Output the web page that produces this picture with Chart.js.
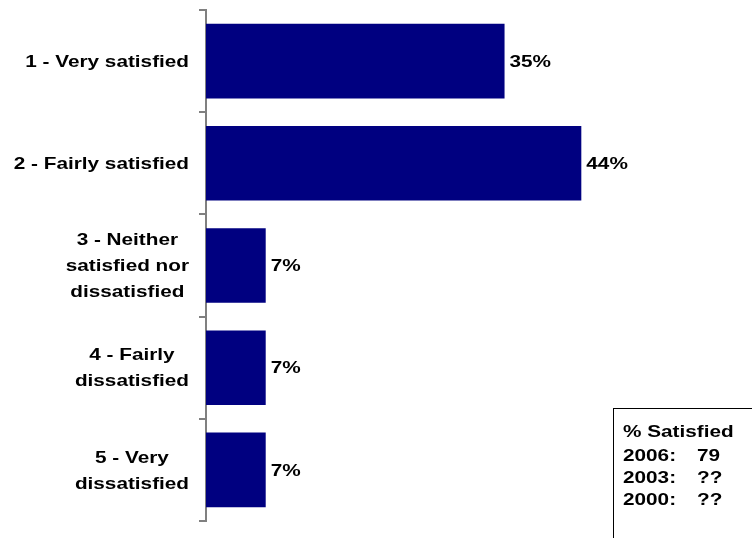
<!DOCTYPE html>
<html>
<head>
<meta charset="utf-8">
<script src="https://cdn.jsdelivr.net/npm/chart.js@4/dist/chart.umd.min.js"></script>
<style>
  html, body { margin: 0; padding: 0; background: #fff; }
  #wrap { position: relative; width: 752px; height: 538px; overflow: hidden; }
</style>
</head>
<body>
<div id="wrap"><canvas id="grafico"></canvas></div>
<script>
// categorias y valores (%)
const categorias = [
    ['1 - Very satisfied'],
    ['2 - Fairly satisfied'],
    ['3 - Neither', 'satisfied nor', 'dissatisfied'],
    ['4 - Fairly', 'dissatisfied'],
    ['5 - Very', 'dissatisfied']
];
const valores = [35, 44, 7, 7, 7];

// cuadro de resumen
const resumenTitulo = '% Satisfied';
const resumenAnios = ['2006:', '2003:', '2000:'];
const resumenValores = ['79', '??', '??'];

const FUENTE = 'bold 17px "Liberation Sans", Arial, sans-serif';
const ESTIRA = 1.22; // el texto va algo ensanchado

function texto(ctx, t, x, y, align) {
    ctx.save();
    ctx.translate(x, y);
    ctx.scale(ESTIRA, 1);
    ctx.textAlign = align;
    ctx.fillText(t, 0, 0);
    ctx.restore();
}

const etiquetas = {
    id: 'etiquetas',
    afterDraw(chart) {
        const ctx = chart.ctx;
        const ejeY = chart.scales.y;
        ctx.save();
        ctx.font = FUENTE;
        ctx.fillStyle = '#000';
        ctx.textBaseline = 'middle';

        // nombres de categoria: bloque alineado a la derecha, lineas centradas
        categorias.forEach((lineas, i) => {
            const yc = ejeY.getPixelForValue(i) + 1;
            const ancho = Math.max(...lineas.map(l => ctx.measureText(l).width * ESTIRA));
            const xc = 189 - ancho / 2;
            const alto = 26;
            lineas.forEach((l, k) => {
                texto(ctx, l, xc, yc + (k - (lineas.length - 1) / 2) * alto, 'center');
            });
        });

        // porcentajes al final de cada barra
        chart.getDatasetMeta(0).data.forEach((barra, i) => {
            texto(ctx, valores[i] + '%', barra.x + 5, barra.y + 1, 'left');
        });

        // cuadro "% Satisfied"
        ctx.strokeStyle = '#000';
        ctx.lineWidth = 1;
        ctx.strokeRect(613.5, 408.5, 200, 200);
        ctx.textBaseline = 'alphabetic';
        texto(ctx, resumenTitulo, 623, 437, 'left');
        const bases = [461, 483, 505];
        resumenAnios.forEach((a, i) => {
            texto(ctx, a, 623, bases[i], 'left');
            texto(ctx, resumenValores[i], 697, bases[i], 'left');
        });
        ctx.restore();
    }
};

new Chart(document.getElementById('grafico'), {
    type: 'bar',
    data: {
        labels: categorias,
        datasets: [{
            data: valores,
            backgroundColor: '#000080',
            barPercentage: 0.73,
            categoryPercentage: 1
        }]
    },
    options: {
        indexAxis: 'y',
        responsive: true,
        maintainAspectRatio: false,
        animation: false,
        layout: { padding: { left: 0, right: 119.5, top: 10, bottom: 17 } },
        plugins: { legend: { display: false }, tooltip: { enabled: false } },
        scales: {
            x: { display: false, min: 0, max: 50 },
            y: {
                afterFit(scale) { scale.width = 206; },
                ticks: { display: false },
                grid: {
                    offset: true,
                    drawOnChartArea: false,
                    drawTicks: true,
                    tickLength: 7,
                    color: '#808080',
                    lineWidth: 2
                },
                border: { display: true, color: '#808080', width: 2 }
            }
        }
    },
    plugins: [etiquetas]
});
</script>
</body>
</html>
